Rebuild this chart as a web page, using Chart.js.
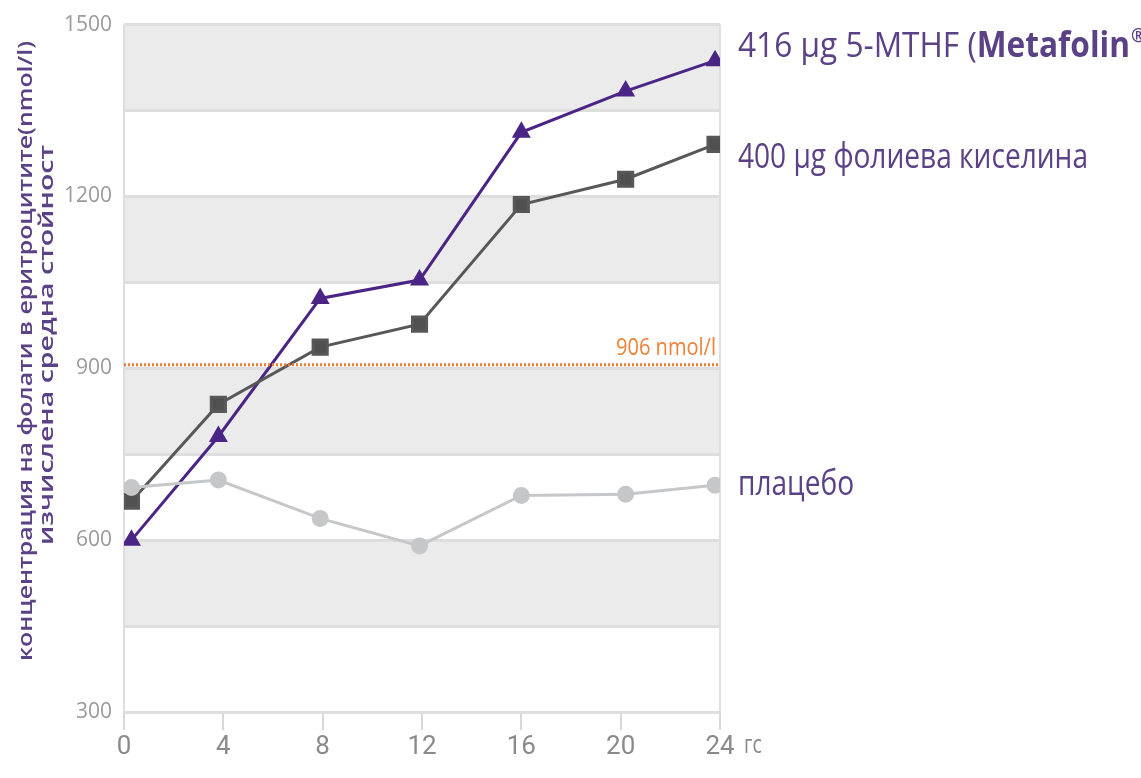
<!DOCTYPE html>
<html lang="bg">
<head>
<meta charset="UTF-8">
<title>Фолати в еритроцитите</title>
<script src="https://cdn.jsdelivr.net/npm/chart.js"></script>
<style>
    html, body { margin: 0; padding: 0; background: #fff; }
    #wrap { width: 1141px; height: 778px; }
</style>
</head>
<body>
<div id="wrap"><canvas id="folateChart" width="1141" height="778"></canvas></div>
<script>
    // values
    const weeks = [0.3, 3.8, 7.9, 11.9, 16, 20.2, 23.8];
    const metafolin = [600, 781, 1022, 1054, 1312, 1384, 1437];
    const folicAcid = [668, 837, 937, 977, 1186, 1230, 1291];
    const placebo = [692, 705, 638, 590, 678, 680, 696];
    const threshold = 906;
    const xTicks = [0, 4, 8, 12, 16, 20, 24];
    const yLabels = [300, 600, 900, 1200, 1500];
    const yTitle = ['концентрация на фолати в еритроцитите(nmol/l)', 'изчислена средна стойност'];
    const seriesNames = ['416 µg 5-MTHF (', 'Metafolin', '®', '400 µg фолиева киселина', 'плацебо'];
    const thresholdLabel = '906 nmol/l';
    const xUnit = 'гс';

    const pts = vals => vals.map((v, i) => ({ x: weeks[i], y: v }));

    const PURPLE = '#4b2585';
    const TEXT_PURPLE = '#5b4186';

    // grey stripes behind the grid
    const bands = {
        id: 'bands',
        beforeDraw(chart) {
            const { ctx, chartArea: a, scales: { y } } = chart;
            ctx.save();
            ctx.fillStyle = '#ebebeb';
            for (let top = 1500; top > 300; top -= 300) {
                const y1 = y.getPixelForValue(top), y2 = y.getPixelForValue(top - 150);
                ctx.fillRect(a.left, y1, a.right - a.left, y2 - y1);
            }
            ctx.restore();
        }
    };

    function squeezed(ctx, text, x, y, font, color, sx, align) {
        ctx.save();
        ctx.font = font;
        ctx.fillStyle = color;
        ctx.textAlign = align || 'left';
        ctx.translate(x, y);
        ctx.scale(sx, 1);
        ctx.fillText(text, 0, 0);
        ctx.restore();
    }

    const labels = {
        id: 'labels',
        afterDraw(chart) {
            const { ctx, chartArea: a, scales: { x, y } } = chart;

            // y title, two rotated lines
            ctx.save();
            ctx.textBaseline = 'middle';
            const tFont = "600 20px 'Open Sans'";
            ctx.font = tFont;
            const w1 = ctx.measureText(yTitle[0]).width;
            const w2 = ctx.measureText(yTitle[1]).width;
            ctx.save();
            ctx.translate(26, 351);
            ctx.rotate(-Math.PI / 2);
            squeezed(ctx, yTitle[0], 0, 0, tFont, TEXT_PURPLE, 620 / w1, 'center');
            ctx.restore();
            ctx.save();
            ctx.translate(47, 345);
            ctx.rotate(-Math.PI / 2);
            squeezed(ctx, yTitle[1], 0, 0, tFont, TEXT_PURPLE, 400 / w2, 'center');
            ctx.restore();
            ctx.restore();

            // series names on the right
            const nFont = "35px 'Open Sans'";
            const bFont = "bold 35px 'Open Sans'";
            ctx.save();
            ctx.textBaseline = 'alphabetic';
            ctx.font = nFont;
            const sx = 350 / ctx.measureText(seriesNames[3]).width;
            const wa = ctx.measureText(seriesNames[0]).width;
            ctx.font = bFont;
            const wb = ctx.measureText(seriesNames[1]).width;
            const s1 = 392 / (wa + wb);
            let cx = 738;
            squeezed(ctx, seriesNames[0], cx, 57, nFont, TEXT_PURPLE, s1);
            cx += wa * s1;
            squeezed(ctx, seriesNames[1], cx, 57, bFont, TEXT_PURPLE, s1);
            cx += wb * s1;
            squeezed(ctx, seriesNames[2], cx + 1, 42, "bold 20px 'Open Sans'", TEXT_PURPLE, s1);
            squeezed(ctx, seriesNames[3], 738, 168, nFont, TEXT_PURPLE, sx);
            squeezed(ctx, seriesNames[4], 738, 495, nFont, TEXT_PURPLE, sx);

            // threshold label
            const lFont = "24px 'Open Sans'";
            ctx.font = lFont;
            const lw = ctx.measureText(thresholdLabel).width;
            squeezed(ctx, thresholdLabel, a.right - 4, y.getPixelForValue(threshold) - 10, lFont, '#f08038', 100 / lw, 'right');

            // x unit
            ctx.textBaseline = 'middle';
            squeezed(ctx, xUnit, a.right + 24, 746, "26px 'Open Sans'", '#8a8a8a', 0.75);
            ctx.restore();
        }
    };

    const ctx = document.getElementById('folateChart').getContext('2d');
    const chart = new Chart(ctx, {
        type: 'line',
        data: {
            datasets: [
                {
                    label: 'threshold',
                    data: [{ x: 0, y: threshold }, { x: 24, y: threshold }],
                    borderColor: '#f07a30',
                    borderWidth: 3,
                    borderDash: [2, 2],
                    pointRadius: 0
                },
                {
                    label: 'плацебо',
                    data: pts(placebo),
                    borderColor: '#c6c7c9',
                    backgroundColor: '#c6c7c9',
                    borderWidth: 3,
                    pointStyle: 'circle',
                    pointRadius: 7
                },
                {
                    label: '400 µg фолиева киселина',
                    data: pts(folicAcid),
                    borderColor: '#585858',
                    backgroundColor: '#505050',
                    borderWidth: 3,
                    pointStyle: 'rect',
                    pointRadius: 10
                },
                {
                    label: '416 µg 5-MTHF (Metafolin®)',
                    data: pts(metafolin),
                    borderColor: PURPLE,
                    backgroundColor: PURPLE,
                    borderWidth: 3,
                    pointStyle: 'triangle',
                    pointRadius: 8
                }
            ]
        },
        options: {
            responsive: false,
            animation: false,
            layout: { padding: { left: 0, right: 421, top: 24, bottom: 0 } },
            plugins: {
                legend: { display: false },
                tooltip: { enabled: false }
            },
            scales: {
                x: {
                    type: 'linear',
                    min: 0,
                    max: 24,
                    afterFit: s => { s.height = 66; },
                    afterBuildTicks: s => { s.ticks = xTicks.map(v => ({ value: v })); },
                    border: { display: false },
                    grid: {
                        color: c => (c.tick && (c.tick.value === 0 || c.tick.value === 24)) ? '#dedede' : 'rgba(0,0,0,0)',
                        tickColor: '#d8d8d8',
                        lineWidth: 2,
                        tickLength: 18
                    },
                    ticks: {
                        color: '#8a8a8a',
                        padding: 2,
                        maxRotation: 0,
                        font: { family: "'Roboto'", size: 26 }
                    }
                },
                y: {
                    min: 300,
                    max: 1500,
                    afterFit: s => { s.width = 124; },
                    border: { display: false },
                    grid: {
                        color: '#dedede',
                        lineWidth: 3,
                        drawTicks: false
                    },
                    ticks: {
                        stepSize: 150,
                        padding: 12,
                        color: '#9a9a9a',
                        font: { family: "'Open Sans'", size: 21 },
                        callback: v => yLabels.includes(v) ? String(v) : ''
                    }
                }
            }
        },
        plugins: [bands, labels]
    });
</script>
</body>
</html>
